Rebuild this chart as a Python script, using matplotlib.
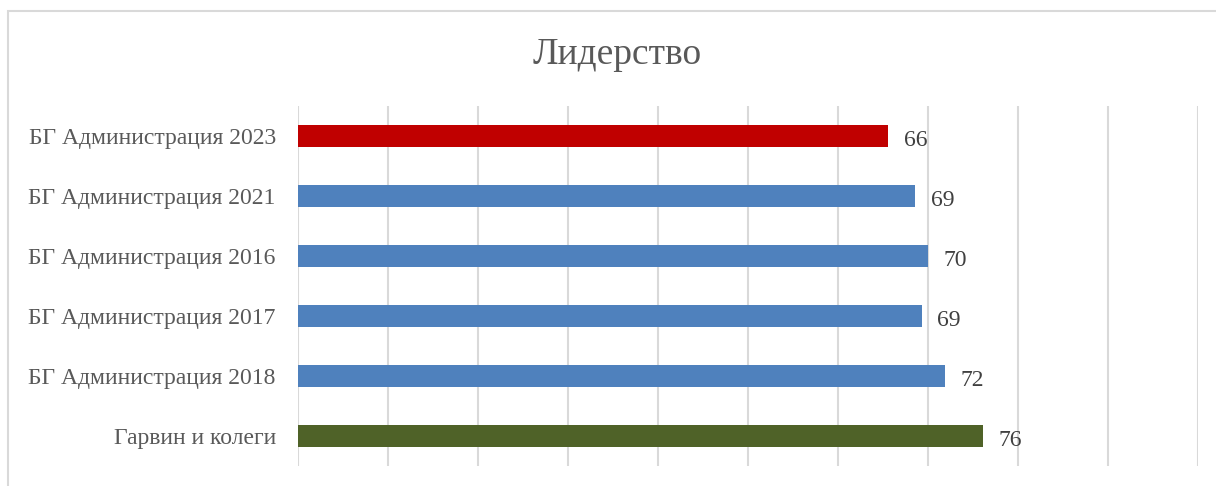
import matplotlib.pyplot as plt
from matplotlib.patches import Rectangle

labels = ["БГ Администрация 2023", "БГ Администрация 2021", "БГ Администрация 2016",
          "БГ Администрация 2017", "БГ Администрация 2018", "Гарвин и колеги"]
values = [65.6, 68.6, 70.0, 69.3, 71.9, 76.1]
value_labels = ["66", "69", "70", "69", "72", "76"]
colors = ["#C00000", "#4F81BD", "#4F81BD", "#4F81BD", "#4F81BD", "#4F6228"]

plt.rcParams['font.family'] = ['Liberation Serif', 'DejaVu Serif']

fig = plt.figure(figsize=(12.16, 4.86), dpi=100)

# outer chart border (cut by the image edge on the right and bottom)
fig.patches.append(Rectangle((8 / 1216, -0.05), 1.1, 1 - 11 / 486 + 0.05,
                             transform=fig.transFigure, fill=False,
                             edgecolor="#D9D9D9", linewidth=1.5))

ax = fig.add_axes([298 / 1216, 20 / 486, 900 / 1216, 360 / 486])
y = range(len(labels))
ax.barh(y, values, height=0.37, color=colors, zorder=3)

for yi, v, lab in zip(y, values, value_labels):
    ax.annotate(lab, (v, yi), xytext=(11, -1.5), textcoords="offset points",
                va="center_baseline", ha="left", fontsize=17, color="#404040")

ax.set_xlim(0, 100)
ax.set_ylim(len(labels) - 0.5, -0.5)
ax.set_xticks(range(0, 101, 10))
ax.xaxis.grid(True, color="#D9D9D9", linewidth=1.5, zorder=0)
ax.tick_params(axis="x", length=0, labelbottom=False)
ax.tick_params(axis="y", length=0, pad=16, labelsize=17, labelcolor="#595959")
ax.set_yticks(list(y))
ax.set_yticklabels(labels)
for s in ax.spines.values():
    s.set_visible(False)

fig.text(617 / 1216, 1 - 55 / 486, "Лидерство", ha="center", va="center",
         fontsize=27, color="#595959")

fig.savefig("out.png", dpi=100)
